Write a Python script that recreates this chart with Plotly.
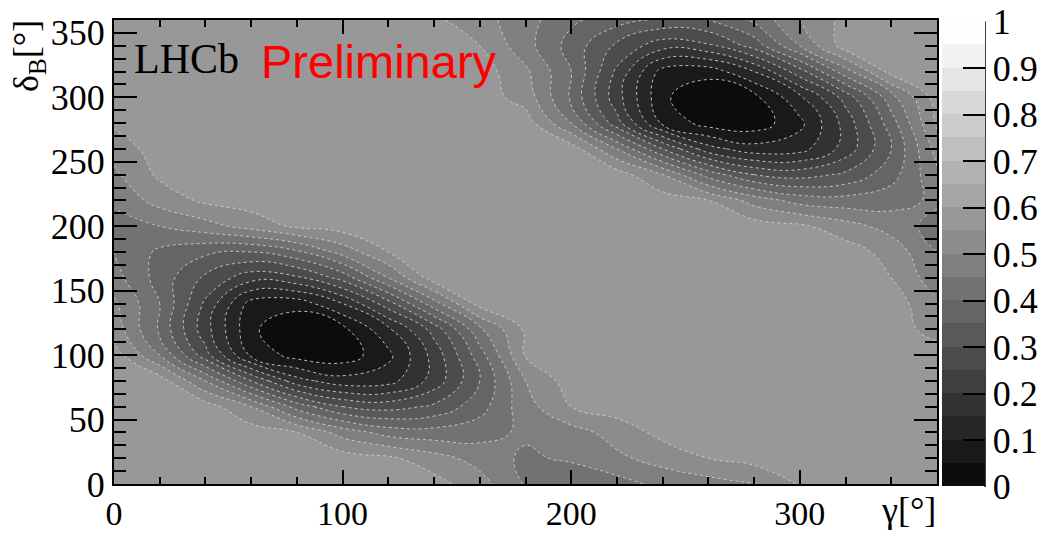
import plotly.graph_objects as go

# ---------------- data ----------------
gamma_deg = [0, 20, 40, 60, 80, 100, 120, 140, 160, 180, 200, 220, 240, 260, 280, 300, 320, 340, 360]
deltaB_deg = [0, 20, 40, 60, 80, 100, 120, 140, 160, 180, 200, 220, 240, 260, 280, 300, 320, 340, 360]
P = 0.575  # flat plateau level

# one row per delta_B value, one entry per gamma value
row_d000 = [P, P, P, P, P, P, P, 0.57, 0.52, 0.445, 0.40, 0.43, 0.465, 0.48, 0.497, 0.555, P, P, P]
row_d020 = [P, P, P, P, P, P, 0.56, 0.52, 0.48, 0.44, 0.46, 0.49, 0.52, 0.55, 0.57, P, P, P, P]
row_d040 = [P, P, P, P, 0.55, 0.48, 0.43, 0.42, 0.43, 0.46, 0.48, 0.52, 0.565, P, P, P, P, P, P]
row_d060 = [P, P, P, 0.50, 0.38, 0.30, 0.28, 0.31, 0.38, 0.48, 0.55, P, P, P, P, P, P, P, P]
row_d080 = [P, P, 0.45, 0.30, 0.17, 0.12, 0.13, 0.22, 0.35, 0.50, P, P, P, P, P, P, P, P, P]
row_d100 = [P, 0.45, 0.27, 0.09, 0.029, 0.02, 0.087, 0.219, 0.377, 0.554, P, P, P, P, P, P, P, P, P]
row_d120 = [0.53, 0.39, 0.22, 0.06, 0.005, 0.035, 0.14, 0.27, 0.44, 0.56, P, P, P, P, P, P, P, P, 0.53]
row_d140 = [0.51, 0.40, 0.24, 0.08, 0.07, 0.15, 0.28, 0.43, 0.57, P, P, P, P, P, P, P, P, P, 0.51]
row_d160 = [0.47, 0.38, 0.29, 0.22, 0.24, 0.32, 0.45, P, P, P, P, P, P, P, P, P, P, 0.55, 0.47]
row_d180 = [0.45, 0.39, 0.36, 0.35, 0.39, 0.47, 0.55, P, P, P, P, P, P, P, P, P, P, 0.53, 0.45]
row_d200 = [0.43, 0.45, 0.48, 0.52, 0.56, P, P, P, P, P, P, P, P, P, P, 0.56, 0.52, 0.48, 0.43]
row_d220 = [0.46, 0.52, 0.56, P, P, P, P, P, P, P, P, P, P, 0.55, 0.48, 0.43, 0.42, 0.43, 0.46]
row_d240 = [0.49, 0.56, P, P, P, P, P, P, P, P, P, P, 0.50, 0.38, 0.30, 0.28, 0.31, 0.38, 0.49]
row_d260 = [0.52, P, P, P, P, P, P, P, P, P, P, 0.45, 0.30, 0.17, 0.12, 0.13, 0.22, 0.35, 0.52]
row_d280 = [0.56, P, P, P, P, P, P, P, P, P, 0.45, 0.27, 0.09, 0.029, 0.02, 0.087, 0.219, 0.377, 0.56]
row_d300 = [P, P, P, P, P, P, P, P, P, 0.53, 0.39, 0.22, 0.06, 0.005, 0.035, 0.14, 0.27, 0.43, P]
row_d320 = [P, P, P, P, P, P, P, P, P, 0.51, 0.40, 0.24, 0.08, 0.07, 0.15, 0.28, 0.43, 0.57, P]
row_d340 = [P, P, P, P, P, P, P, P, 0.55, 0.47, 0.38, 0.29, 0.22, 0.24, 0.32, 0.45, P, P, P]
row_d360 = [P, P, P, P, P, P, P, 0.56, 0.52, 0.47, 0.41, 0.37, 0.34, 0.35, 0.41, 0.50, 0.565, P, P]

z_rows = [row_d000, row_d020, row_d040, row_d060, row_d080, row_d100, row_d120,
          row_d140, row_d160, row_d180, row_d200, row_d220, row_d240, row_d260,
          row_d280, row_d300, row_d320, row_d340, row_d360]

cbar_ticks = [0, 0.1, 0.2, 0.3, 0.4, 0.5, 0.6, 0.7, 0.8, 0.9, 1.0]
cbar_labels = ["0", "0.1", "0.2", "0.3", "0.4", "0.5", "0.6", "0.7", "0.8", "0.9", "1"]
x_ticks = [0, 100, 200, 300]
y_ticks = [0, 50, 100, 150, 200, 250, 300, 350]

# ---------------- style ----------------
n_bands = 20
greys = [int((i + 0.99) * 255 / n_bands) for i in range(n_bands)]
cscale = []
for i, g in enumerate(greys):
    c = f"rgb({g},{g},{g})"
    cscale.append([i / n_bands, c])
    cscale.append([(i + 1) / n_bands - 1e-4 if i < n_bands - 1 else 1.0, c])

W, H = 1040, 534
L, R, T, B = 114, 103, 20, 50
pw, ph = W - L - R, H - T - B


def px2x(px):
    return (px - L) / pw


def px2y(py):
    return (H - B - py) / ph


serif = "Liberation Serif"
levels = dict(start=0, end=1, size=0.05)

# filled bands (with the palette)
fig = go.Figure(go.Contour(
    x=gamma_deg, y=deltaB_deg, z=z_rows,
    zmin=0, zmax=1, zauto=False, autocontour=False,
    contours=dict(**levels, coloring="fill", showlines=False),
    line=dict(width=0, smoothing=1.3),
    colorscale=cscale,
    hoverinfo="skip",
    colorbar=dict(
        x=px2x(942), xanchor="left", xpad=0, ypad=0,
        y=px2y(254), yanchor="middle",
        len=465, lenmode="pixels", thickness=43, thicknessmode="pixels",
        outlinewidth=0,
        tickmode="array", tickvals=cbar_ticks, ticktext=cbar_labels,
        ticks="inside", ticklen=22, tickwidth=1.5, tickcolor="black",
        tickfont=dict(family=serif, size=36, color="black"),
    ),
))
# thin light contour lines on top (not shown in the palette)
fig.add_trace(go.Contour(
    x=gamma_deg, y=deltaB_deg, z=z_rows,
    autocontour=False,
    contours=dict(**levels, coloring="none", showlines=True),
    line=dict(color="rgb(205,205,205)", width=0.9, dash="dot", smoothing=1.3),
    showscale=False, hoverinfo="skip",
))

axis_common = dict(
    range=[0, 360], showgrid=False, zeroline=False,
    showline=True, linecolor="black", linewidth=2, mirror="ticks",
    ticks="inside", tickcolor="black", tickwidth=1.5,
)

fig.update_layout(
    width=W, height=H,
    margin=dict(l=L, r=R, t=T, b=B, autoexpand=False),
    paper_bgcolor="white", plot_bgcolor="white",
    xaxis=dict(**axis_common, tickmode="array", tickvals=x_ticks,
               ticktext=[str(v) for v in x_ticks], ticklen=14, ticklabelstandoff=-2,
               tickfont=dict(family=serif, size=34, color="black"),
               minor=dict(tickvals=list(range(20, 360, 20)), ticklen=7, ticks="inside",
                          tickcolor="black", tickwidth=1.5)),
    yaxis=dict(**axis_common, tickmode="array", tickvals=y_ticks,
               ticktext=[str(v) for v in y_ticks], ticklen=23,
               tickfont=dict(family=serif, size=36, color="black"),
               minor=dict(tickvals=list(range(10, 360, 10)), ticklen=12, ticks="inside",
                          tickcolor="black", tickwidth=1.5)),
    showlegend=False,
)

fig.add_annotation(xref="paper", yref="paper", x=px2x(132), y=px2y(59), xanchor="left",
                   yanchor="middle", text="LHCb", showarrow=False,
                   font=dict(family=serif, size=42, color="black"))
fig.add_annotation(xref="paper", yref="paper", x=px2x(259), y=px2y(61), xanchor="left",
                   yanchor="middle", text="Preliminary", showarrow=False,
                   font=dict(family="Liberation Sans", size=47, color="red"))
fig.add_annotation(xref="paper", yref="paper", x=px2x(938), y=px2y(510), xanchor="right",
                   yanchor="middle", text="γ[°]", showarrow=False,
                   font=dict(family=serif, size=36, color="black"))
fig.add_annotation(xref="paper", yref="paper", x=px2x(29), y=px2y(18), xanchor="center",
                   yanchor="top", text="δ<sub>B</sub>[°]", textangle=-90, showarrow=False,
                   font=dict(family=serif, size=36, color="black"))

# palette axis line on the right of the colour bar
fig.add_shape(type="line", xref="paper", yref="paper",
              x0=px2x(985), x1=px2x(985), y0=px2y(487), y1=px2y(21.5),
              line=dict(color="black", width=1.5))

fig.write_html("out.html", config={"displayModeBar": False},
               post_script="document.body.style.margin='0';document.body.style.padding='0';")
